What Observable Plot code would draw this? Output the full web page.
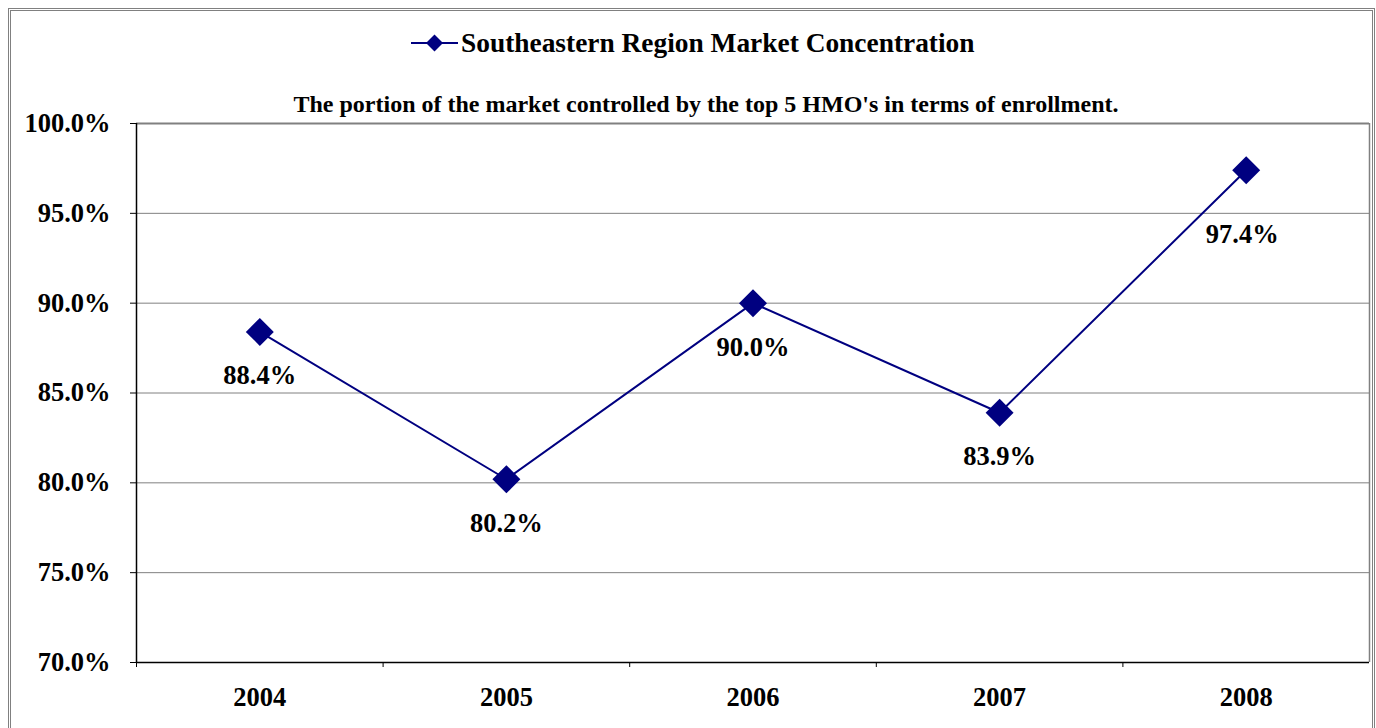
<!DOCTYPE html>
<html>
<head>
<meta charset="utf-8">
<script src="https://cdn.jsdelivr.net/npm/d3@7"></script>
<script src="https://cdn.jsdelivr.net/npm/@observablehq/plot@0.6"></script>
<style>
  html, body { margin: 0; padding: 0; background: #fff; }
  body { width: 1376px; height: 728px; position: relative; overflow: hidden;
         font-family: "Liberation Serif", "Times New Roman", serif; font-weight: bold; color: #000; }
  #frame { position: absolute; left: 8px; top: 8px; width: 1367px; height: 760px;
           border: 3px double #808080; box-sizing: border-box; }
  #legend { position: absolute; left: 411px; top: 27px; height: 32px; display: flex; align-items: center;
            font-size: 27.4px; white-space: nowrap; }
  #legend svg { margin-right: 3px; }
  #subtitle { position: absolute; top: 90px; left: 706px; transform: translateX(-50%);
              font-size: 24px; line-height: 28px; white-space: nowrap; }
  #chart { position: absolute; left: 0; top: 100px; }
</style>
</head>
<body>
<div id="frame"></div>
<div id="legend"></div>
<div id="subtitle"></div>
<div id="chart"></div>
<script>
const years = ["2004", "2005", "2006", "2007", "2008"];
const shares = [88.4, 80.2, 90.0, 83.9, 97.4];
const yTicks = [70, 75, 80, 85, 90, 95, 100];
const seriesName = "Southeastern Region Market Concentration";
const subtitleText = "The portion of the market controlled by the top 5 HMO's in terms of enrollment.";

const data = years.map((year, i) => ({year, pos: i + 0.5, share: shares[i]}));
const boundaries = years.map((_, i) => i);
const navy = "#000080";

// Legend
const legend = document.getElementById("legend");
legend.innerHTML =
  `<svg width="47" height="20" viewBox="0 0 47 20">
     <line x1="0" y1="10" x2="47" y2="10" stroke="${navy}" stroke-width="2"/>
     <path d="M23.5,1.5 L32,10 L23.5,18.5 L15,10 Z" fill="${navy}"/>
   </svg><span>${seriesName}</span>`;
document.getElementById("subtitle").textContent = subtitleText;

const fmt = d => d.toFixed(1) + "%";
const lastYear = years[years.length - 1];

const chart = Plot.plot({
  width: 1376,
  height: 628,
  marginTop: 23,
  marginBottom: 66,
  marginLeft: 136,
  marginRight: 7,
  x: {type: "linear", domain: [0, years.length], label: null},
  y: {domain: [70, 100], label: null},
  style: {
    fontFamily: "'Liberation Serif', 'Times New Roman', serif",
    fontWeight: "bold",
    fontSize: "26.5px",
    color: "#000",
    background: "transparent",
    overflow: "visible"
  },
  marks: [
    Plot.gridY(yTicks.slice(1, -1), {stroke: "#808080", strokeOpacity: 1, strokeWidth: 1}),
    Plot.ruleY([100], {stroke: "#808080", strokeWidth: 2}),
    Plot.ruleX([years.length], {stroke: "#808080", strokeWidth: 1.5}),
    Plot.axisY(yTicks, {tickSize: 6, tickPadding: 20, tickFormat: fmt, stroke: "#000", label: null}),
    Plot.axisX(data.map(d => d.pos), {tickSize: 0, tickPadding: 25, tickFormat: d => years[Math.floor(d)], label: null}),
    Plot.axisX(boundaries, {tickSize: 5, tickFormat: () => "", stroke: "#000", label: null}),
    Plot.ruleY([70], {stroke: "#000", strokeWidth: 1.5}),
    Plot.ruleX([0], {stroke: "#000", strokeWidth: 1.5}),
    Plot.line(data, {x: "pos", y: "share", stroke: navy, strokeWidth: 2}),
    Plot.dot(data, {x: "pos", y: "share", symbol: "diamond2", r: 12.6, fill: navy, stroke: null}),
    Plot.text(data.filter(d => d.year !== lastYear), {x: "pos", y: "share", text: d => fmt(d.share), dy: 44, fill: "#000"}),
    Plot.text(data.filter(d => d.year === lastYear), {x: "pos", y: "share", text: d => fmt(d.share), dy: 64, dx: -4, fill: "#000"})
  ]
});
document.getElementById("chart").appendChild(chart);
</script>
</body>
</html>
